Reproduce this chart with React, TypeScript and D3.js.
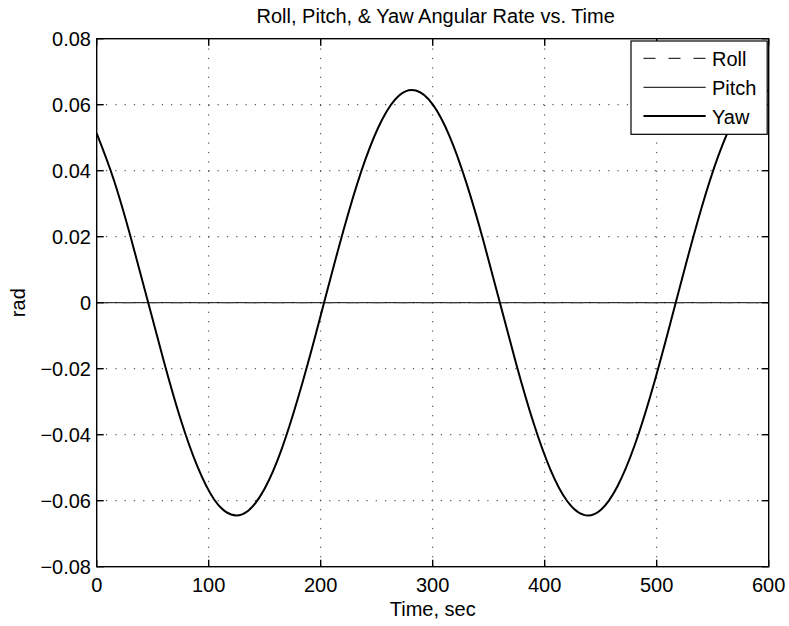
import React, { useEffect, useRef } from 'react';
import * as d3 from 'd3';

// sample times (sec) and rates (rad)
const times = [
  0, 15, 30, 45, 60, 75, 90, 105, 120, 135, 150, 165, 180, 195, 210, 225, 240, 255, 270, 285, 300,
  315, 330, 345, 360, 375, 390, 405, 420, 435, 450, 465, 480, 495, 510, 525, 540, 555, 570, 585, 600,
];
const yawRate = [
  0.0513, 0.0375, 0.0203, 0.0013, -0.0178, -0.0354, -0.0497, -0.0597, -0.0642, -0.0631, -0.0563,
  -0.0445, -0.0286, -0.0103, 0.009, 0.0275, 0.0435, 0.0556, 0.0628, 0.0643, 0.0601, 0.0505, 0.0364,
  0.0191, 0.0, -0.0191, -0.0364, -0.0505, -0.0601, -0.0643, -0.0628, -0.0556, -0.0435, -0.0275,
  -0.009, 0.0103, 0.0287, 0.0445, 0.0563, 0.0631, 0.0642,
];
const rollRate = times.map(() => 0);
const pitchRate = times.map(() => 0);

const xTicks = [0, 100, 200, 300, 400, 500, 600];
const yTicks = [-0.08, -0.06, -0.04, -0.02, 0, 0.02, 0.04, 0.06, 0.08];
const yTickLabels = ['\u22120.08', '\u22120.06', '\u22120.04', '\u22120.02', '0', '0.02', '0.04', '0.06', '0.08'];
const legendNames = ['Roll', 'Pitch', 'Yaw'];

const FONT = '"Liberation Sans", Arial, Helvetica, sans-serif';

const App = () => {
  const svgRef = useRef<SVGSVGElement | null>(null);

  useEffect(() => {
    const svgEl = svgRef.current;
    if (!svgEl) return;
    const width = 789;
    const height = 626;
    const svg = d3.select(svgEl);
    svg.selectAll('*').remove();
    svg.attr('width', width).attr('height', height);

    const left = 96.7;
    const right = 768.7;
    const top = 38.7;
    const bottom = 566.7;

    const x = d3.scaleLinear().domain([0, 600]).range([left, right]);
    const y = d3.scaleLinear().domain([-0.08, 0.08]).range([bottom, top]);

    svg.append('rect').attr('width', width).attr('height', height).attr('fill', '#fff');

    // dotted grid
    const grid = svg.append('g');
    xTicks.slice(1, -1).forEach((t) => {
      grid.append('line')
        .attr('x1', x(t)).attr('x2', x(t)).attr('y1', bottom).attr('y2', top)
        .attr('stroke', '#333').attr('stroke-width', 1).attr('stroke-dasharray', '1.2,8.2');
    });
    yTicks.slice(1, -1).forEach((t) => {
      grid.append('line')
        .attr('x1', left).attr('x2', right).attr('y1', y(t)).attr('y2', y(t))
        .attr('stroke', '#333').attr('stroke-width', 1).attr('stroke-dasharray', '1.2,8.1');
    });

    svg.append('clipPath').attr('id', 'plot-clip')
      .append('rect').attr('x', left).attr('y', top).attr('width', right - left).attr('height', bottom - top);

    const plot = svg.append('g').attr('clip-path', 'url(#plot-clip)');
    const line = d3.line<number>()
      .x((_, i) => x(times[i]))
      .y((d) => y(d));

    plot.append('path').datum(pitchRate)
      .attr('fill', 'none').attr('stroke', '#000').attr('stroke-width', 1)
      .attr('d', line);
    plot.append('path').datum(rollRate)
      .attr('fill', 'none').attr('stroke', '#444').attr('stroke-width', 1).attr('stroke-dasharray', '12,13')
      .attr('d', line);
    plot.append('path').datum(yawRate)
      .attr('fill', 'none').attr('stroke', '#000').attr('stroke-width', 2)
      .attr('d', line.curve(d3.curveNatural));

    // axes box + inward ticks
    const axes = svg.append('g').attr('stroke', '#000').attr('stroke-width', 1.4);
    axes.append('rect').attr('x', left).attr('y', top).attr('width', right - left).attr('height', bottom - top).attr('fill', 'none');
    const tl = 7;
    xTicks.forEach((t) => {
      axes.append('line').attr('x1', x(t)).attr('x2', x(t)).attr('y1', bottom).attr('y2', bottom - tl);
      axes.append('line').attr('x1', x(t)).attr('x2', x(t)).attr('y1', top).attr('y2', top + tl);
    });
    yTicks.forEach((t) => {
      axes.append('line').attr('x1', left).attr('x2', left + tl).attr('y1', y(t)).attr('y2', y(t));
      axes.append('line').attr('x1', right).attr('x2', right - tl).attr('y1', y(t)).attr('y2', y(t));
    });

    const txt = svg.append('g').attr('font-family', FONT).attr('font-size', 20).attr('fill', '#000');
    xTicks.forEach((t) => {
      txt.append('text').attr('x', x(t)).attr('y', 592).attr('text-anchor', 'middle').text(String(t));
    });
    yTicks.forEach((t, i) => {
      txt.append('text').attr('x', 91).attr('y', y(t) + 7.5).attr('text-anchor', 'end').text(yTickLabels[i]);
    });

    txt.append('text').attr('x', (left + right) / 2).attr('y', 616).attr('text-anchor', 'middle').text('Time, sec');
    txt.append('text').attr('transform', `translate(25,${y(0)}) rotate(-90)`).attr('text-anchor', 'middle').text('rad');
    txt.append('text').attr('x', (left + right) / 2 + 3).attr('y', 23).attr('text-anchor', 'middle').text('Roll, Pitch, & Yaw Angular Rate vs. Time');

    // legend
    const lg = svg.append('g');
    lg.append('rect').attr('x', 631).attr('y', 41).attr('width', right - 1.5 - 631).attr('height', 93.3)
      .attr('fill', '#fff').attr('stroke', '#000').attr('stroke-width', 1.2);
    const rowY = [58.3, 87.3, 116];
    const styles = [
      { w: 1, dash: '12,13' },
      { w: 1, dash: null },
      { w: 2, dash: null },
    ];
    legendNames.forEach((name, i) => {
      const l = lg.append('line').attr('x1', 643.5).attr('x2', 705.7).attr('y1', rowY[i]).attr('y2', rowY[i])
        .attr('stroke', '#000').attr('stroke-width', styles[i].w);
      if (styles[i].dash) l.attr('stroke-dasharray', styles[i].dash);
      lg.append('text').attr('x', 712).attr('y', rowY[i] + 7.5)
        .attr('font-family', FONT).attr('font-size', 20).attr('fill', '#000').text(name);
    });
  }, []);

  return <svg ref={svgRef} style={{ position: 'absolute', left: 0, top: 0, display: 'block' }} />;
};

export default App;
